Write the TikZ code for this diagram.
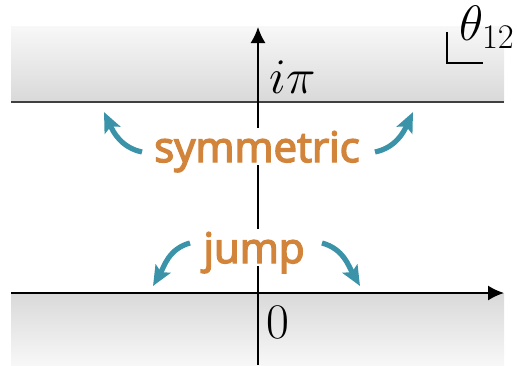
\documentclass[tikz,border=0pt]{standalone}
\usepackage{fontspec}
\newfontfamily\tagfont{Open Sans}[FakeBold=3.5]
\usetikzlibrary{arrows.meta}
\definecolor{bendteal}{HTML}{3A93A8}
\definecolor{tagorange}{HTML}{D2843A}

\begin{document}
\begin{tikzpicture}[x=0.5pt, y=0.5pt,
    axis/.style={line width=0.8pt, -{Latex[length=8pt,width=7.5pt]}},
    bendarrow/.style={bendteal, line width=2.6pt, -{Stealth[length=10pt,width=8.5pt,inset=2pt]}},
    tag/.style={tagorange, fill=white, inner sep=1.5pt, text depth=0pt,
      font=\tagfont\fontsize{21}{25}\selectfont},
    mathlabel/.style={font=\fontsize{25}{30}\selectfont, inner sep=0pt}]
  \useasboundingbox (0,0) rectangle (517,365);

  % grey strips
  \shade[top color=black!3, bottom color=black!15] (11,263) rectangle (504,338);
  \shade[top color=black!15, bottom color=black!3] (11,0) rectangle (504,72);
  \draw[line width=1pt, black!75] (11,263) -- (504,263);

  \coordinate (O) at (258,72);
  \coordinate (W) at (11,72);
  \coordinate (E) at (504,72);
  \coordinate (S) at (258,0);
  \coordinate (N) at (258,338);

  \draw[axis] (W) -- (E);
  \draw[axis] (S) -- (N);

  \node[mathlabel] (ipi) at (293,288) {$i\pi$};
  \node[mathlabel] (zero) at (278,43) {$0$};

  % corner label
  \node[mathlabel, anchor=west, font=\fontsize{27}{32}\selectfont] (theta) at (459,338) {$\theta_{12}$};
  \draw[line width=0.7pt] (447,333) -- (447,302) -- (483,302);

  \node[tag, anchor=base] (sym) at (257,203) {symmetric};
  \node[tag, anchor=base] (jump) at (254,102) {jump};

  \coordinate (symL) at (142,213);
  \coordinate (symLtip) at (104,253);
  \coordinate (symR) at (375,213);
  \coordinate (symRtip) at (413,253);
  \coordinate (jumpL) at (190,122);
  \coordinate (jumpLtip) at (153,79);
  \coordinate (jumpR) at (322,122);
  \coordinate (jumpRtip) at (360,79);

  \draw[bendarrow] (symL) to[out=168, in=-65] (symLtip);
  \draw[bendarrow] (symR) to[out=12, in=-115] (symRtip);
  \draw[bendarrow] (jumpL) to[out=195, in=60] (jumpLtip);
  \draw[bendarrow] (jumpR) to[out=-15, in=120] (jumpRtip);
\end{tikzpicture}
\end{document}
